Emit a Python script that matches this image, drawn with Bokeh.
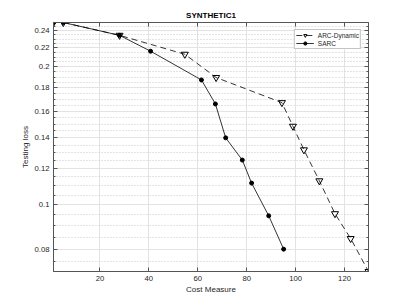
from bokeh.plotting import figure
from bokeh.models import FixedTicker, LogAxis, LinearAxis, Legend, LegendItem, CustomJSTickFormatter, Range1d
from bokeh.embed import file_html
from bokeh.resources import INLINE

# data
arc_x = [1, 5, 28, 54.7, 67.5, 94.4, 98.9, 103.4, 109.7, 116.1, 122.5, 129.8]
arc_y = [0.25, 0.25, 0.2344, 0.2131, 0.1896, 0.1671, 0.1484, 0.1318, 0.1128, 0.0956, 0.0844, 0.0715]
sarc_x = [1, 5, 28, 40.7, 61.5, 67.2, 71.4, 78.2, 82.0, 89.0, 95.1]
sarc_y = [0.25, 0.25, 0.2344, 0.2164, 0.1873, 0.166, 0.14, 0.1252, 0.1115, 0.0946, 0.08]
x_ticks = [20, 40, 60, 80, 100, 120]
y_ticks = [0.08, 0.1, 0.12, 0.14, 0.16, 0.18, 0.2, 0.22, 0.24]
y_minor = [0.075, 0.085, 0.09, 0.095, 0.105, 0.11, 0.115, 0.125, 0.13, 0.135, 0.145, 0.15, 0.155,
           0.165, 0.17, 0.175, 0.185, 0.19, 0.195, 0.205, 0.21, 0.215, 0.225, 0.23, 0.235, 0.245]

FONT = "Liberation Sans"
TXT = "#262626"
AX = "#555555"

p = figure(width=407, height=305, y_axis_type="log", output_backend="svg", toolbar_location=None,
           x_range=Range1d(min(arc_x + sarc_x), max(arc_x + sarc_x)),
           y_range=Range1d(min(arc_y + sarc_y), max(arc_y + sarc_y)),
           min_border_left=53, min_border_right=39, min_border_top=22, min_border_bottom=34,
           title="SYNTHETIC1")
p.title.align = "center"
p.title.text_font = FONT
p.title.text_font_size = "8px"
p.title.text_font_style = "bold"
p.title.text_color = "#000000"
p.title.standoff = 5
p.title.offset = 0

p.outline_line_color = AX
p.background_fill_color = "white"

p.xaxis.ticker = FixedTicker(ticks=x_ticks)
p.yaxis.ticker = FixedTicker(ticks=y_ticks, minor_ticks=y_minor)
p.yaxis.formatter = CustomJSTickFormatter(code="return String(Number(tick.toFixed(2)));")

for ax in [p.xaxis[0], p.yaxis[0]]:
    ax.major_tick_in = 4
    ax.major_tick_out = 0
    ax.minor_tick_in = 2
    ax.minor_tick_out = 0
    ax.axis_line_color = AX
    ax.major_tick_line_color = AX
    ax.minor_tick_line_color = AX
    ax.major_label_text_font = FONT
    ax.major_label_text_font_size = "7.7px"
    ax.major_label_text_color = TXT
    ax.axis_label_text_font = FONT
    ax.axis_label_text_font_size = "8px"
    ax.axis_label_text_font_style = "normal"
    ax.axis_label_text_color = TXT
    ax.major_label_standoff = 4
    ax.axis_label_standoff = 2
p.xaxis.minor_tick_line_color = None
p.xaxis.axis_label = "Cost Measure"
p.yaxis.axis_label = "Testing loss"
p.xaxis.axis_label_standoff = 1

# mirrored axes (box)
blank = CustomJSTickFormatter(code="return '';")
top = LinearAxis(ticker=FixedTicker(ticks=x_ticks), formatter=blank,
                 major_tick_in=4, major_tick_out=0, minor_tick_line_color=None,
                 axis_line_color=AX, major_tick_line_color=AX, major_label_standoff=0)
right = LogAxis(ticker=FixedTicker(ticks=y_ticks, minor_ticks=y_minor), formatter=blank,
                major_tick_in=4, major_tick_out=0, minor_tick_in=2, minor_tick_out=0,
                axis_line_color=AX, major_tick_line_color=AX, minor_tick_line_color=AX, major_label_standoff=0)
p.add_layout(top, "above")
p.add_layout(right, "right")

p.xgrid.grid_line_color = "#e3e3e3"
p.ygrid.grid_line_color = "#e3e3e3"
p.ygrid.minor_grid_line_color = "#c8c8c8"
p.ygrid.minor_grid_line_dash = "1 2"

l1 = p.line(arc_x, arc_y, line_color="black", line_dash="6 4", line_width=0.8)
s1 = p.scatter(arc_x, arc_y, marker="inverted_triangle", size=7, line_color="black",
               fill_color="white", fill_alpha=0, line_width=1)
l2 = p.line(sarc_x, sarc_y, line_color="black", line_width=0.8)
s2 = p.scatter(sarc_x, sarc_y, marker="circle", size=4, line_color="black", fill_color="black")

legend = Legend(items=[LegendItem(label="ARC-Dynamic", renderers=[l1, s1]),
                       LegendItem(label="SARC", renderers=[l2, s2])],
                location="top_right", margin=7, padding=1, spacing=0,
                glyph_width=18, glyph_height=8, label_height=8, label_width=10, label_standoff=4,
                label_text_font=FONT, label_text_font_size="6.5px", label_text_color=TXT,
                border_line_color="#888888", background_fill_alpha=1)
p.add_layout(legend)

open("out.html", "w").write(file_html(p, INLINE))
